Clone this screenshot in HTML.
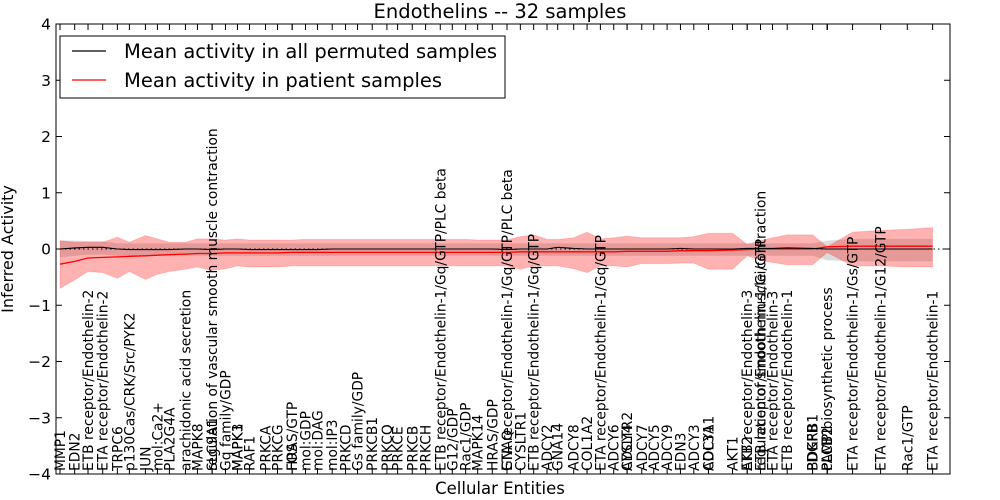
<!DOCTYPE html>
<html><head><meta charset="utf-8"><style>
html,body{margin:0;padding:0;background:#fff;}
svg{display:block;font-family:"DejaVu Sans","Liberation Sans",sans-serif;}
</style></head><body>
<svg id="chart" width="1000" height="500">
<rect width="1000" height="500" fill="#fff"/>
<g id="bands"></g><g id="lines"></g><g id="ticks"></g><g id="xlabels"></g><g id="ylabels"></g>
<rect x="56" y="24" width="894" height="450" fill="none" stroke="#000" stroke-width="1"/>
<text x="500" y="18" font-size="19.5" text-anchor="middle">Endothelins -- 32 samples</text>
<text x="500" y="494" font-size="16.5" text-anchor="middle">Cellular Entities</text>
<text transform="translate(13,249) rotate(-90)" font-size="16" text-anchor="middle">Inferred Activity</text>
<g>
<rect x="60" y="36" width="445" height="62" fill="#fff" stroke="#000" stroke-width="1"/>
<line x1="72" y1="51" x2="106" y2="51" stroke="#000" stroke-width="1.2"/>
<text x="124" y="58" font-size="19.5">Mean activity in all permuted samples</text>
<line x1="72" y1="80" x2="106" y2="80" stroke="#f00" stroke-width="1.2"/>
<text x="124" y="87" font-size="19.5">Mean activity in patient samples</text>
</g>
</svg>
<script>
const labels=["MMP1","EDN2","ETB receptor/Endothelin-2","ETA receptor/Endothelin-2","TRPC6","p130Cas/CRK/Src/PYK2","JUN","mol:Ca2+","PLA2G4A","arachidonic acid secretion","MAPK8","regulation of vascular smooth muscle contraction","SLC9A1","Gq family/GDP","MAPK3","MAPK1","RAF1","PRKCA","PRKCG","FOS","HRAS/GTP","mol:GDP","mol:DAG","mol:IP3","PRKCD","Gs family/GDP","PRKCB1","PRKCQ","PRKCE","PRKCB","PRKCH","ETB receptor/Endothelin-1/Gq/GTP/PLC beta","G12/GDP","Rac1/GDP","MAPK14","HRAS/GDP","ETA receptor/Endothelin-1/Gq/GTP/PLC beta","GNAQ","CYSLTR1","ETB receptor/Endothelin-1/Gq/GTP","ADCY2","GNA14","ADCY8","COL1A2","ETA receptor/Endothelin-1/Gq/GTP","ADCY6","CYSLTR2","ADCY4","ADCY7","ADCY5","ADCY9","EDN3","ADCY3","COL3A1","ADCY1","AKT1","AKT2","ETB receptor/Endothelin-3","regulation of smooth muscle contraction","ETB receptor/Endothelin-1/Gi/GTP","ETA receptor/Endothelin-3","ETB receptor/Endothelin-1","PDGFB","BDKRB1","PLCB1","PLCB2","cAMP biosynthetic process","ETA receptor/Endothelin-1/Gs/GTP","ETA receptor/Endothelin-1/G12/GTP","Rac1/GTP","ETA receptor/Endothelin-1"];
const labelX=[0.3,1.4,2.4,3.5,4.6,5.5,6.7,7.6,8.5,9.7,10.6,11.7,11.7,12.7,13.6,13.6,14.5,15.7,16.6,17.7,17.7,18.7,19.6,20.7,21.7,22.6,23.7,24.8,25.6,26.7,27.7,28.8,29.7,30.7,31.6,32.7,33.8,33.8,34.8,35.8,36.8,37.6,38.8,39.8,40.8,41.8,42.8,42.8,43.9,44.8,45.8,46.8,47.8,48.9,48.9,50.7,51.8,51.8,52.8,52.8,53.7,54.8,56.7,56.7,57.8,57.8,57.8,59.7,61.8,63.8,65.7];
const seriesX=[0.3,1.4,2.4,3.5,4.6,5.5,6.7,7.6,8.5,9.7,10.6,11.7,12.7,13.6,14.5,15.7,16.6,17.7,18.7,19.6,20.7,21.7,22.6,23.7,24.8,25.6,26.7,27.7,28.8,29.7,30.7,31.6,32.7,33.8,34.8,35.8,36.8,37.6,38.8,39.8,40.8,41.8,42.8,43.9,44.8,45.8,46.8,47.8,48.9,50.7,51.8,52.8,53.7,54.8,56.7,57.8,59.7,61.8,63.8,65.7];
const patientMean=[-0.27,-0.22,-0.16,-0.15,-0.14,-0.13,-0.12,-0.11,-0.1,-0.09,-0.08,-0.08,-0.07,-0.07,-0.07,-0.07,-0.07,-0.06,-0.06,-0.06,-0.06,-0.06,-0.06,-0.06,-0.06,-0.06,-0.06,-0.06,-0.06,-0.06,-0.06,-0.06,-0.06,-0.06,-0.05,-0.05,-0.05,-0.05,-0.05,-0.05,-0.05,-0.05,-0.04,-0.04,-0.04,-0.04,-0.03,-0.03,-0.03,-0.02,-0.01,0,0,0,0,0.04,0.05,0.05,0.05,0.05];
const patientHi=[0.15,0.12,0.12,0.12,0.21,0.12,0.24,0.18,0.12,0.12,0.18,0.18,0.16,0.18,0.16,0.16,0.16,0.16,0.17,0.17,0.17,0.17,0.17,0.17,0.17,0.17,0.17,0.17,0.17,0.17,0.17,0.16,0.16,0.16,0.22,0.25,0.17,0.17,0.2,0.3,0.18,0.2,0.23,0.2,0.2,0.2,0.2,0.22,0.28,0.28,0.08,0.15,0.2,0.25,0.25,0.04,0.3,0.33,0.35,0.38];
const patientLo=[-0.7,-0.55,-0.4,-0.42,-0.52,-0.4,-0.54,-0.45,-0.4,-0.36,-0.32,-0.38,-0.35,-0.3,-0.32,-0.32,-0.32,-0.3,-0.3,-0.3,-0.3,-0.3,-0.3,-0.3,-0.3,-0.3,-0.3,-0.3,-0.3,-0.3,-0.3,-0.3,-0.3,-0.3,-0.36,-0.3,-0.3,-0.3,-0.35,-0.42,-0.3,-0.3,-0.32,-0.26,-0.26,-0.26,-0.25,-0.25,-0.36,-0.36,-0.12,-0.2,-0.24,-0.28,-0.28,-0.06,-0.3,-0.3,-0.32,-0.32];
const permMean=[0,0.02,0.03,0.03,0,-0.01,-0.01,-0.01,-0.01,0,0,-0.01,0,0,-0.01,-0.01,-0.01,-0.01,-0.01,-0.01,0,0,0,0,0,0,0,0,0,0,0,0,0,-0.01,0,0,0,0.03,0.01,0,0,0,0,0,0,0,0.01,0,0,0,0.01,0.01,0.01,0.02,0.01,0,0,0,0,0];
const permHi=[0.15,0.15,0.14,0.14,0.1,0.1,0.1,0.1,0.1,0.1,0.1,0.1,0.1,0.1,0.1,0.1,0.1,0.1,0.1,0.1,0.1,0.1,0.1,0.1,0.1,0.1,0.1,0.1,0.1,0.1,0.1,0.1,0.1,0.1,0.1,0.1,0.1,0.1,0.1,0.1,0.1,0.1,0.1,0.1,0.1,0.1,0.1,0.1,0.1,0.1,0.1,0.1,0.1,0.1,0.1,0.15,0.18,0.18,0.18,0.18];
const permLo=[-0.15,-0.12,-0.1,-0.1,-0.12,-0.12,-0.12,-0.12,-0.12,-0.12,-0.12,-0.12,-0.12,-0.12,-0.12,-0.12,-0.12,-0.12,-0.12,-0.12,-0.12,-0.12,-0.12,-0.12,-0.12,-0.12,-0.12,-0.12,-0.12,-0.12,-0.12,-0.12,-0.12,-0.12,-0.12,-0.12,-0.12,-0.12,-0.12,-0.12,-0.12,-0.12,-0.12,-0.12,-0.12,-0.12,-0.12,-0.12,-0.12,-0.12,-0.12,-0.12,-0.12,-0.12,-0.12,-0.2,-0.22,-0.22,-0.22,-0.22];
const yTicks=[4,3,2,1,0,-1,-2,-3,-4];

const NS="http://www.w3.org/2000/svg";
const xs=v=>56+v*13.343;
const ys=v=>249-v*56.25;
function mk(tag,parent,attrs){const e=document.createElementNS(NS,tag);for(const k in attrs)e.setAttribute(k,attrs[k]);document.getElementById(parent).appendChild(e);return e;}
function band(hi,lo){let d="M";seriesX.forEach((x,i)=>{d+=(i?" L":"")+xs(x).toFixed(1)+","+ys(hi[i]).toFixed(1);});for(let i=seriesX.length-1;i>=0;i--)d+=" L"+xs(seriesX[i]).toFixed(1)+","+ys(lo[i]).toFixed(1);return d+" Z";}
function line(vals){return seriesX.map((x,i)=>(i?"L":"M")+xs(x).toFixed(1)+","+ys(vals[i]).toFixed(1)).join(" ");}

let g=mk("path","bands",{d:band(permHi,permLo),fill:"#888",'fill-opacity':"0.3"});


let r=mk("path","bands",{d:band(patientHi,patientLo),fill:"#f00",'fill-opacity':"0.3",stroke:"#f00",'stroke-opacity':"0.15"});


let z=mk("line","lines",{x1:56,x2:950,y1:ys(0),y2:ys(0),stroke:"#000",'stroke-dasharray':"1.5,3",'stroke-width':"1"});


let pl=mk("path","lines",{d:line(patientMean),fill:"none",stroke:"#f00",'stroke-width':"1.3"});


let bl=mk("path","lines",{d:line(permMean),fill:"none",stroke:"#000",'stroke-width':"1.1"});



yTicks.forEach(t=>{
  const y=ys(t);
  let a=mk("line","ticks",{x1:56,x2:62,y1:y,y2:y,stroke:"#000"});
  
  
  let b=mk("line","ticks",{x1:944,x2:950,y1:y,y2:y,stroke:"#000"});
  
  
  let tx=mk("text","ylabels",{x:51,y:y+5.5,'font-size':"15.5",'text-anchor':"end"});
  tx.textContent=(t<0?"\u2212":"")+Math.abs(t);
  
  
});
labels.forEach((l,i)=>{
  const x=xs(labelX[i]);
  let a=mk("line","ticks",{x1:x,x2:x,y1:474,y2:468,stroke:"#000"});
  
  
  let b=mk("line","ticks",{x1:x,x2:x,y1:24,y2:30,stroke:"#000"});
  
  
  let t=mk("text","xlabels",{transform:`translate(${(x+5).toFixed(1)},471) rotate(-90)`,'font-size':"13.8"});
  t.textContent=l;
  
  
});
</script>
</body></html>
